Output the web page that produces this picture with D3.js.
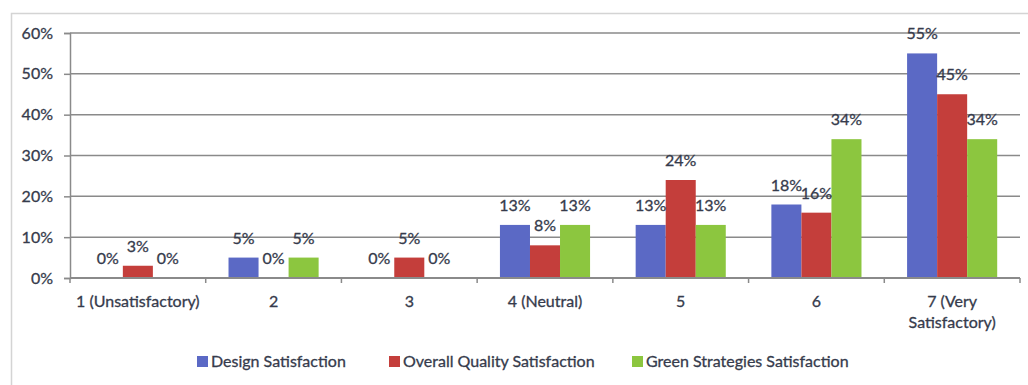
<!DOCTYPE html>
<html>
<head>
<meta charset="utf-8">
<script src="https://cdn.jsdelivr.net/npm/d3@7"></script>
<style>
  html, body { margin: 0; padding: 0; background: #fff; }
  svg { display: block; font-family: Lato, "Open Sans", sans-serif; }
  svg text { stroke: #363b4c; stroke-width: 0.3px; }
</style>
</head>
<body>
<svg id="chart" width="1028" height="385"></svg>
<script>
// Satisfaction ratings, share of respondents per score
const categories = ["1 (Unsatisfactory)", "2", "3", "4 (Neutral)", "5", "6", "7 (Very Satisfactory)"];
const seriesNames = ["Design Satisfaction", "Overall Quality Satisfaction", "Green Strategies Satisfaction"];
const designValues = [0, 5, 0, 13, 13, 18, 55];
const qualityValues = [3, 0, 5, 8, 24, 16, 45];
const greenValues = [0, 5, 0, 13, 13, 34, 34];
const yTicks = [0, 10, 20, 30, 40, 50, 60];
const colors = ["#5B69C5", "#C43E3B", "#8CC63F"];

const seriesValues = [designValues, qualityValues, greenValues];
const rows = categories.map((c, i) => ({ cat: c, vals: seriesValues.map(s => s[i]) }));

const textColor = "#363b4c";
const fontSize = 16;

const svg = d3.select("#chart");
const margin = { left: 70, right: 8, top: 33, bottom: 107 };
const W = 1028, H = 385;
const plotW = W - margin.left - margin.right;
const plotH = H - margin.top - margin.bottom;

// chart frame
svg.append("rect")
  .attr("x", 11.5).attr("y", 13.5)
  .attr("width", 1040).attr("height", 400)
  .attr("fill", "none").attr("stroke", "#d4d4d4").attr("stroke-width", 1.5);

const g = svg.append("g").attr("transform", `translate(${margin.left},${margin.top})`);

const x0 = d3.scaleBand().domain(categories).range([0, plotW]).paddingInner(0).paddingOuter(0);
const x1 = d3.scaleBand().domain(d3.range(3)).range([x0.bandwidth() * 0.168, x0.bandwidth() * 0.832]);
const y = d3.scaleLinear().domain([0, 60]).range([plotH, 0]);

// gridlines
g.append("g").selectAll("line").data(yTicks.slice(1)).join("line")
  .attr("x1", 0).attr("x2", plotW)
  .attr("y1", d => y(d)).attr("y2", d => y(d))
  .attr("stroke", "#8a8a8a").attr("stroke-width", 1.5);

// y axis
const yAxis = g.append("g")
  .call(d3.axisLeft(y).tickValues(yTicks).tickFormat(d => d + "%").tickSize(6).tickPadding(11));
yAxis.select(".domain").attr("stroke", "#8a8a8a").attr("stroke-width", 1.5);
yAxis.selectAll(".tick line").attr("stroke", "#8a8a8a").attr("stroke-width", 1.5);
yAxis.selectAll("text").attr("font-size", fontSize).attr("font-family", "Lato, sans-serif").attr("fill", textColor);

// bars
const groups = g.append("g").selectAll("g").data(rows).join("g")
  .attr("transform", d => `translate(${x0(d.cat)},0)`);

groups.selectAll("rect").data(d => d.vals).join("rect")
  .attr("x", (d, i) => x1(i))
  .attr("width", x1.bandwidth())
  .attr("y", d => y(d))
  .attr("height", d => y(0) - y(d))
  .attr("fill", (d, i) => colors[i]);

groups.selectAll("text.lbl").data(d => d.vals).join("text")
  .attr("class", "lbl")
  .attr("x", (d, i) => x1(i) + x1.bandwidth() / 2)
  .attr("y", d => y(d) - 14)
  .attr("text-anchor", "middle")
  .attr("font-size", fontSize)
  .attr("fill", textColor)
  .text(d => d + "%");

// x axis with ticks between categories
const xAxisG = g.append("g").attr("transform", `translate(0,${plotH})`);
xAxisG.append("line").attr("x1", 0).attr("x2", plotW).attr("y1", 0).attr("y2", 0)
  .attr("stroke", "#8a8a8a").attr("stroke-width", 2);
xAxisG.selectAll("line.tk").data(d3.range(categories.length + 1)).join("line")
  .attr("class", "tk")
  .attr("x1", i => i * x0.step()).attr("x2", i => i * x0.step())
  .attr("y1", 0).attr("y2", 5)
  .attr("stroke", "#8a8a8a").attr("stroke-width", 1.5);

xAxisG.selectAll("text.cat").data(categories).join("text")
  .attr("class", "cat")
  .attr("text-anchor", "middle")
  .attr("font-size", fontSize)
  .attr("fill", textColor)
  .attr("transform", d => `translate(${x0(d) + x0.bandwidth() / 2},0)`)
  .each(function (d) {
    const t = d3.select(this);
    const lines = d === "7 (Very Satisfactory)" ? ["7 (Very", "Satisfactory)"] : [d];
    lines.forEach((ln, k) => {
      t.append("tspan").attr("x", 0).attr("y", 29 + k * 21).text(ln);
    });
  });

// legend
const legendX = [197, 389, 632];
const legend = svg.append("g").selectAll("g").data(seriesNames).join("g")
  .attr("transform", (d, i) => `translate(${legendX[i]},356)`);
legend.append("rect").attr("width", 11).attr("height", 11).attr("y", 0)
  .attr("fill", (d, i) => colors[i]);
legend.append("text").attr("x", 14).attr("y", 10.5)
  .attr("font-size", fontSize).attr("fill", textColor)
  .text(d => d);
</script>
</body>
</html>
